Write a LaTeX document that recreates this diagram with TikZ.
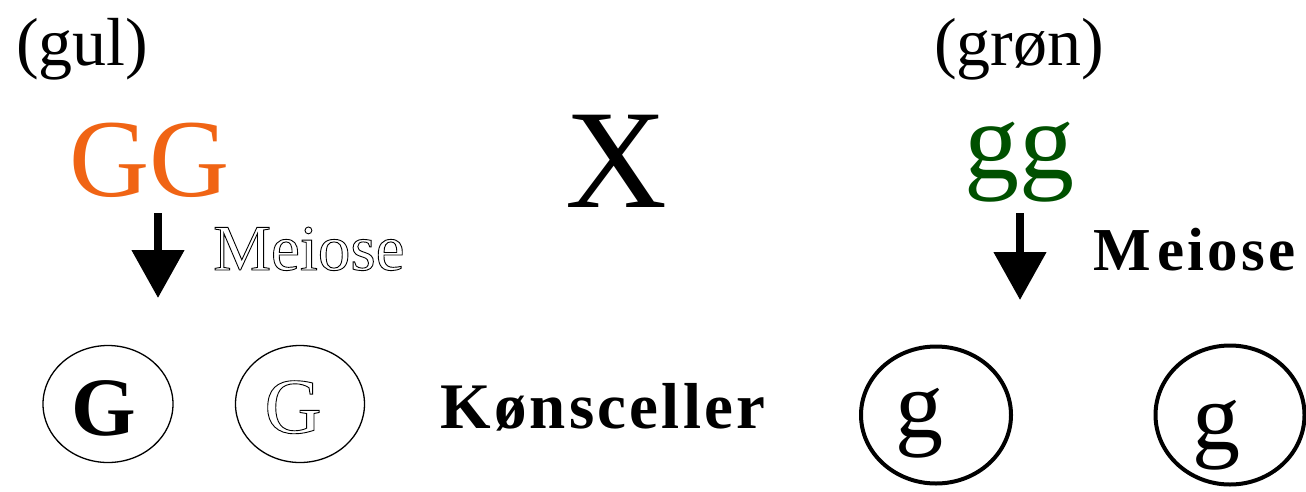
\documentclass[tikz,border=0pt]{standalone}
\usepackage{fontspec}
\setmainfont{Liberation Serif}
\newfontfamily\sperr[LetterSpace=5]{Liberation Serif}
\usetikzlibrary{arrows.meta,positioning,shapes.geometric}
\definecolor{gulfarge}{RGB}{240,100,20}
\definecolor{gronfarge}{RGB}{0,80,0}
% hollow (outlined) letters
\newcommand\hul[1]{\special{pdf:literal direct 1 Tr 0.9 w}#1\special{pdf:literal direct 0 Tr}}
\newcommand\fs[1]{\fontsize{#1}{#1}\selectfont}
\tikzset{
  txt/.style={inner sep=0pt,anchor=base},
  celle/.style={draw,ellipse,inner sep=0pt},
  meio/.style={-{Triangle[width=51pt,length=48pt]},line width=8pt}
}
\begin{document}
\begin{tikzpicture}[x=1pt,y=-1pt]
  \useasboundingbox (0,0) rectangle (1306,491);

  % parents
  \node[txt,anchor=base west,font=\fs{68}] (gul) at (16,65) {(gul)};
  \node[txt,anchor=base west,font=\fs{68}] (gron) at (934,65) {(grøn)};
  \node[txt,anchor=base west,font=\fs{111},text=gulfarge] (GG) at (69,196) {GG};
  \node[txt,font=\fs{141}] (X) at (616,207) {X};
  \node[txt,font=\fs{110},text=gronfarge] (gg) at (1019,178) {gg};

  % meiose
  \coordinate (v1) at (158,213);
  \coordinate (v2) at (158,298);
  \coordinate (h1) at (1020,213);
  \coordinate (h2) at (1020,300);
  \draw[meio] (v1) -- (v2);
  \draw[meio] (h1) -- (h2);
  \node[txt,anchor=base west,font=\fs{65}] (M1) at (213,270) {\hul{Meiose}};
  \node[txt,anchor=base west,font=\fs{61}\sperr\bfseries] (M2) at (1093,270) {M\kern7pt eiose};

  % gameter
  \node[txt,font=\fs{83}\bfseries] (G1) at (104,435) {G};
  \node[txt,font=\fs{79}] (G2) at (293,433) {\hul{G}};
  \node[txt,font=\fs{96}] (g1) at (919,437) {g};
  \node[txt,font=\fs{96}] (g2) at (1216,449) {g};
  \node[celle,line width=1.3pt,minimum width=130pt,minimum height=117pt] (C1) at (108,404) {};
  \node[celle,line width=1.3pt,minimum width=129pt,minimum height=117pt] (C2) at (300,404) {};
  \node[celle,line width=4pt,minimum width=150pt,minimum height=137pt] (C3) at (936,415) {};
  \node[celle,line width=4pt,minimum width=149pt,minimum height=139pt] (C4) at (1230,415) {};
  \node[txt,anchor=base west,font=\fs{65}\sperr\bfseries] (KC) at (440,428) {Kønsceller};
\end{tikzpicture}
\end{document}
